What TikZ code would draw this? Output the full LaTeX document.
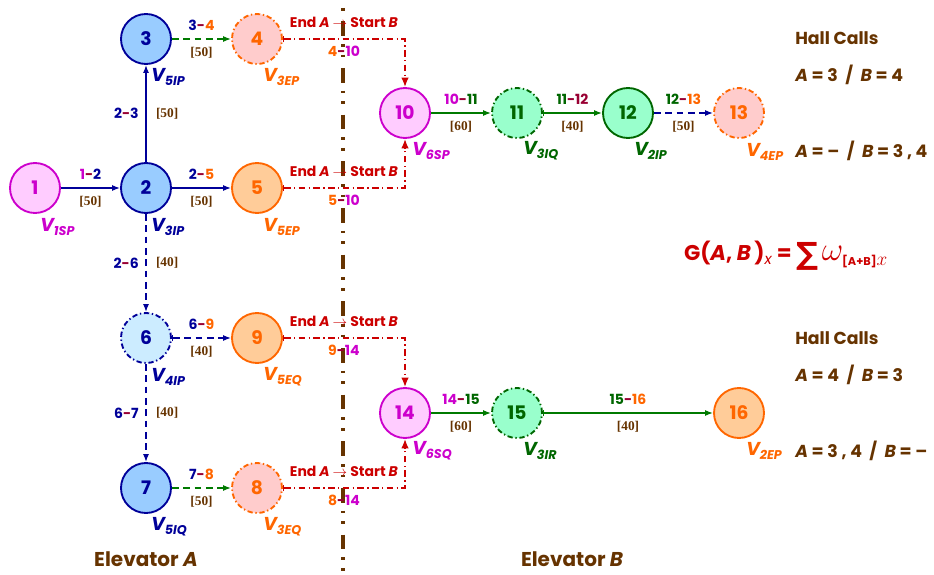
\documentclass[tikz,border=0pt]{standalone}
\usepackage{amsmath}
\usepackage{fontspec}
\setmainfont{Poppins}
\newfontfamily\brfont{Liberation Serif}
\newfontfamily\djv{DejaVu Sans}
\usetikzlibrary{arrows.meta}
\definecolor{cmag}{HTML}{CC00CC}
\definecolor{cmagfill}{HTML}{FFCCFF}
\definecolor{cblue}{HTML}{000099}
\definecolor{cbluefill}{HTML}{99CCFF}
\definecolor{clbluefill}{HTML}{CCECFF}
\definecolor{corange}{HTML}{FF6600}
\definecolor{corfill}{HTML}{FFCC99}
\definecolor{cpinkfill}{HTML}{FFCCCC}
\definecolor{cgreen}{HTML}{006600}
\definecolor{cgline}{HTML}{007A00}
\definecolor{cgreenfill}{HTML}{99FFCC}
\definecolor{cred}{HTML}{CC0000}
\definecolor{cmaroon}{HTML}{990033}
\definecolor{cbrown}{HTML}{663300}
\newcommand\eLab[4]{\textcolor{#1}{#2}\textcolor{cmaroon}{-}\textcolor{#3}{#4}}
\newcommand\vSub[1]{V\raisebox{-3pt}{\fontsize{9.5}{9.5}\selectfont #1}}
\tikzset{
  nd/.style={circle, minimum size=37.5pt, inner sep=0pt, line width=1.4pt, font=\bfseries\fontsize{14}{14}\selectfont},
  ndash/.style={dash pattern=on 4pt off 2pt on 1pt off 2pt},
  ndblue/.style={nd, draw=cblue, fill=cbluefill, text=cblue},
  ndmag/.style={nd, draw=cmag, fill=cmagfill, text=cmag},
  ndor/.style={nd, draw=corange, fill=corfill, text=corange},
  ndpink/.style={nd, ndash, draw=corange, fill=cpinkfill, text=corange},
  ndgreen/.style={nd, draw=cgreen, fill=cgreenfill, text=cgreen},
  vlab/.style={anchor=west, inner sep=0pt, font=\bfseries\itshape\fontsize{14}{14}\selectfont},
  elab/.style={font=\bfseries\fontsize{10.5}{11}\selectfont, inner sep=0pt},
  wlab/.style={font=\brfont\bfseries\fontsize{10}{10}\selectfont, text=cbrown, inner sep=0pt},
  arr/.style={-{Latex[length=6pt,width=4.5pt]}, line width=1pt},
  barr/.style={{Bar[width=5pt]}-{Latex[length=6pt,width=4.5pt]}, line width=1pt},
  edash/.style={dash pattern=on 5pt off 3.5pt},
  redc/.style={{Bar[width=5pt]}-{Latex[length=7pt,width=5.5pt]}, line width=1.1pt, draw=cred, dash pattern=on 5pt off 2.5pt on 1pt off 2.5pt},
  redlab/.style={font=\bfseries\fontsize{10.5}{11}\selectfont, text=cred, inner sep=0pt},
  hall/.style={anchor=west, inner sep=0pt, text=cbrown, font=\bfseries\fontsize{13}{13}\selectfont},
  elev/.style={inner sep=0pt, text=cbrown, font=\bfseries\fontsize{15}{15}\selectfont},
}
\begin{document}
\begin{tikzpicture}[x=0.75pt,y=-0.75pt]
\useasboundingbox (0,0) rectangle (934,574);
% divider
\coordinate (dtop) at (343,8);
\coordinate (dbot) at (343,574);
\draw[cbrown, line width=3.2pt, dash pattern=on 2pt off 8pt on 11pt off 6pt on 2pt off 6pt] (dtop) -- (dbot);
% nodes
\node[ndmag] (n1) at (35,188) {1};
\node[ndblue] (n2) at (146,188) {2};
\node[ndblue] (n3) at (146,39) {3};
\node[ndpink] (n4) at (257,39) {4};
\node[ndor] (n5) at (257,188) {5};
\node[nd, ndash, draw=cblue, fill=clbluefill, text=cblue] (n6) at (146,338) {6};
\node[ndor] (n9) at (257,338) {9};
\node[ndblue] (n7) at (146,488) {7};
\node[ndpink] (n8) at (257,488) {8};
\node[ndmag] (n10) at (405,113) {10};
\node[ndgreen, ndash] (n11) at (517,113) {11};
\node[ndgreen] (n12) at (628,113) {12};
\node[ndpink] (n13) at (739,113) {13};
\node[ndmag] (n14) at (405,413) {14};
\node[ndgreen, ndash] (n15) at (517,413) {15};
\node[ndor] (n16) at (739,413) {16};
% V labels
\node[vlab, text=cmag] (v1) at (40,227) {\vSub{1SP}};
\node[vlab, text=cblue] (v2) at (151,227) {\vSub{3IP}};
\node[vlab, text=cblue] (v3) at (151,77) {\vSub{5IP}};
\node[vlab, text=corange] (v4) at (263,77) {\vSub{3EP}};
\node[vlab, text=corange] (v5) at (263,227) {\vSub{5EP}};
\node[vlab, text=cblue] (v6) at (151,377) {\vSub{4IP}};
\node[vlab, text=corange] (v9) at (263,377) {\vSub{5EQ}};
\node[vlab, text=cblue] (v7) at (151,527) {\vSub{5IQ}};
\node[vlab, text=corange] (v8) at (263,527) {\vSub{3EQ}};
\node[vlab, text=cmag] (v10) at (412,151) {\vSub{6SP}};
\node[vlab, text=cgreen] (v11) at (523,151) {\vSub{3IQ}};
\node[vlab, text=cgreen] (v12) at (634,151) {\vSub{2IP}};
\node[vlab, text=corange] (v13) at (746,152) {\vSub{4EP}};
\node[vlab, text=cmag] (v14) at (412,451) {\vSub{6SQ}};
\node[vlab, text=cgreen] (v15) at (523,451) {\vSub{3IR}};
\node[vlab, text=corange] (v16) at (746,451) {\vSub{2EP}};
% elevator A edges
\draw[arr, cblue] (n1) -- node[elab, above=6pt]{\eLab{cmag}{1}{cblue}{2}} node[wlab, below=5.5pt]{[50]} (n2);
\draw[arr, cblue] (n2) -- node[elab, left=5pt]{\eLab{cblue}{2}{cblue}{3}} node[wlab, right=7pt]{[50]} (n3);
\draw[arr, cblue] (n2) -- node[elab, above=6pt]{\eLab{cblue}{2}{corange}{5}} node[wlab, below=5.5pt]{[50]} (n5);
\draw[arr, cblue, edash] (n2) -- node[elab, left=5pt]{\eLab{cblue}{2}{cblue}{6}} node[wlab, right=7pt]{[40]} (n6);
\draw[arr, cgline, edash] (n3) -- node[elab, above=6pt]{\eLab{cblue}{3}{corange}{4}} node[wlab, below=5.5pt]{[50]} (n4);
\draw[barr, cblue, edash] (n6) -- node[elab, above=6pt]{\eLab{cblue}{6}{corange}{9}} node[wlab, below=5.5pt]{[40]} (n9);
\draw[arr, cblue, edash] (n6) -- node[elab, left=5pt]{\eLab{cblue}{6}{cblue}{7}} node[wlab, right=7pt]{[40]} (n7);
\draw[arr, cgline, edash] (n7) -- node[elab, above=6pt]{\eLab{cblue}{7}{corange}{8}} node[wlab, below=5.5pt]{[50]} (n8);
% elevator B edges
\draw[arr, cgline] (n10) -- node[elab, above=6pt]{\eLab{cmag}{10}{cgreen}{11}} node[wlab, below=5.5pt]{[60]} (n11);
\draw[barr, cgline] (n11) -- node[elab, above=6pt]{\eLab{cgreen}{11}{cmaroon}{12}} node[wlab, below=5.5pt]{[40]} (n12);
\draw[arr, cblue, edash] (n12) -- node[elab, above=6pt]{\eLab{cgreen}{12}{corange}{13}} node[wlab, below=5.5pt]{[50]} (n13);
\draw[arr, cgline] (n14) -- node[elab, above=6pt]{\eLab{cmag}{14}{cgreen}{15}} node[wlab, below=5.5pt]{[60]} (n15);
\draw[barr, cgline] (n15) -- node[elab, above=6pt]{\eLab{cgreen}{15}{corange}{16}} node[wlab, below=5.5pt]{[40]} (n16);
% transfer connectors
\draw[redc] (n4) -| node[pos=0.25, redlab, above=8pt]{End \textit{A} $\rightarrow$ Start \textit{B}} node[pos=0.25, elab, below=5pt]{\eLab{corange}{4}{cmag}{10}} (n10);
\draw[redc] (n5) -| node[pos=0.25, redlab, above=8pt]{End \textit{A} $\rightarrow$ Start \textit{B}} node[pos=0.25, elab, below=5pt]{\eLab{corange}{5}{cmag}{10}} (n10);
\draw[redc] (n9) -| node[pos=0.25, redlab, above=8pt]{End \textit{A} $\rightarrow$ Start \textit{B}} node[pos=0.25, elab, below=5pt]{\eLab{corange}{9}{cmag}{14}} (n14);
\draw[redc] (n8) -| node[pos=0.25, redlab, above=8pt]{End \textit{A} $\rightarrow$ Start \textit{B}} node[pos=0.25, elab, below=5pt]{\eLab{corange}{8}{cmag}{14}} (n14);
% right side texts
\node[hall] (h1) at (795,38) {Hall Calls};
\node[hall] (h1a) at (795,75) {\textit{A} = 3 \ / \ \textit{B} = 4};
\node[hall] (h1b) at (795,151) {\textit{A} = -- \ / \ \textit{B} = 3 , 4};
\node[hall] (h2) at (795,338) {Hall Calls};
\node[hall] (h2a) at (795,375) {\textit{A} = 4 \ / \ \textit{B} = 3};
\node[hall] (h2b) at (795,451) {\textit{A} = 3 , 4 \ / \ \textit{B} = --};
\node[inner sep=0pt, text=cred, font=\bfseries\fontsize{16}{16}\selectfont] (form) at (786,256)
  {G(\textit{A}, \textit{B}\,)$_{\mathit{x}}$ = {\djv\bfseries\fontsize{23}{23}\selectfont\raisebox{-3pt}{∑}}\,{\fontsize{24}{24}\selectfont$\omega_{\mbox{\fontsize{8.5}{8.5}\selectfont\bfseries[A+B]}\mbox{\fontsize{14}{14}\selectfont$x$}}$}};
\node[elev] (ea) at (146,559) {Elevator \textit{A}};
\node[elev] (eb) at (572,559) {Elevator \textit{B}};
\end{tikzpicture}
\end{document}
